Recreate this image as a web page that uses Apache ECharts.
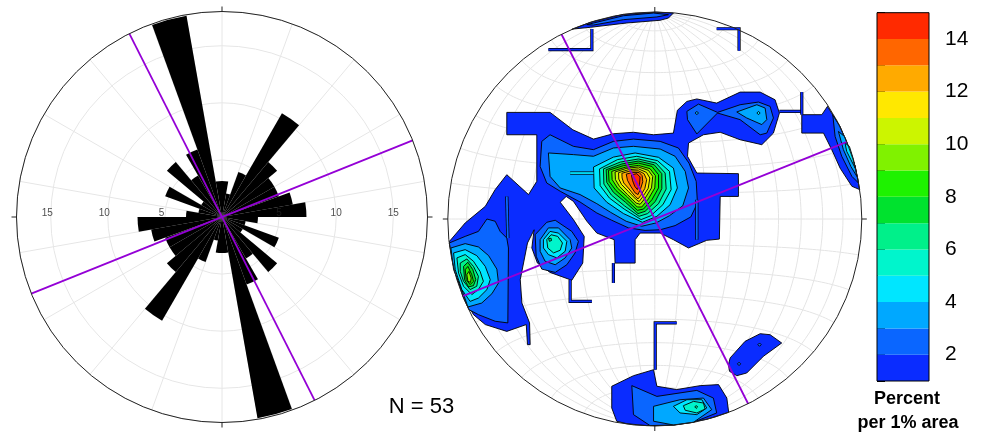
<!DOCTYPE html>
<html><head><meta charset="utf-8">
<script src="https://cdn.jsdelivr.net/npm/echarts/dist/echarts.min.js"></script>
<style>html,body{margin:0;padding:0;background:#fff}#c{width:986px;height:433px}</style>
</head><body><div id="c"></div>
<script>
// ---------- Rose diagram data ----------
const roseBins = ['0','10','20','30','40','50','60','70','80','90','100','110','120','130','140','150','160','170',
  '180','190','200','210','220','230','240','250','260','270','280','290','300','310','320','330','340','350'];
const rosePercent = [3.15,2.1,4.2,10.5,6.3,5.3,5.3,6.3,7.4,3.15,2.1,5.3,2.1,6.3,4.2,6.3,17.9,3.15,
  3.15,2.1,4.2,10.5,6.3,5.3,5.3,6.3,7.4,3.15,2.1,5.3,2.1,6.3,4.2,6.3,17.9,3.15];
const roseRadialTicks = [5, 10, 15];
const meanAzimuths = [68.1, 153.2];
const nLabel = 'N = 53';

// ---------- Colour bar ----------
const levelBounds = [1,2,3,4,5,6,7,8,9,10,11,12,13,14,15];
const levelColors = ['#0a2cff','#0a66ff','#00a8ff','#00e6ff','#00f5cc','#00f08a','#00e22e','#1ef200','#80f200','#ccf500','#ffe800','#ffaa00','#ff6600','#ff2a00'];
const colorbarTicks = [2,4,6,8,10,12,14];
const colorbarTitle = ['Percent', 'per 1% area'];

// ---------- Stereonet density contours (net units, radius = 100) ----------
const level1Polys = [
 [[-71.5,51.5],[-50.6,51.5],[-39.6,43.1],[-29.6,38.6],[-20.0,41.2],[-10.3,41.9],[-0.6,40.7],[9.0,41.5],[10.9,52.5],[15.5,56.8],[20.3,58.0],[29.9,56.0],[41.2,61.3],[50.9,61.3],[58.1,57.6],[60.2,51.2],[57.3,41.5],[51.7,35.9],[41.2,38.3],[31.6,41.9],[23.5,40.7],[16.3,36.7],[15.8,30.3],[20.3,22.2],[40.4,21.9],[40.4,10.9],[31.6,10.9],[31.2,-9.7],[25.1,-10.3],[16.3,-14.0],[9.0,-10.0],[2.6,-6.8],[-7.1,-6.8],[-9.5,-10.0],[-9.5,-21.3],[-19.2,-21.3],[-19.6,-10.0],[-28.0,-6.8],[-32.8,-1.1],[-39.3,8.5],[-42.8,10.9],[-45.7,8.1],[-39.3,-0.3],[-34.1,-8.4],[-34.8,-21.3],[-40.1,-29.6],[-50.6,-25.8],[-56.7,-21.3],[-59.4,-14.0],[-58.3,-5.2],[-61.5,-11.6],[-65.0,-29.3],[-64.2,-40.6],[-60.5,-50.2],[-60.2,-60.7],[-61.5,-60.7],[-62.1,-51.0],[-71.5,-54.3],[-81.9,-51.0],[-87.6,-46.2],[-91.6,-39.0],[-97.2,-22.9],[-99.2,-10.8],[-91.6,-1.9],[-81.9,6.1],[-77.1,14.2],[-71.5,21.4],[-61.0,11.8],[-57.0,18.2],[-57.0,40.7],[-71.5,40.7]],
 [[71.0,50.4],[80.7,50.4],[83.4,54.4],[89.4,44.8],[93.5,35.1],[96.8,25.4],[99.0,14.2],[95.2,15.8],[89.5,24.6],[85.5,33.5],[81.5,41.5],[71.0,41.5]],
 [[-40.1,91.6],[-31.2,95.0],[-15.1,98.9],[1.0,99.9],[9.0,99.5],[6.6,97.1],[2.6,96.0],[-13.5,94.7],[-31.2,92.6],[-39.3,91.8]],
 [[-20.8,-80.8],[-10.3,-75.7],[-0.6,-72.8],[1.0,-80.8],[10.6,-82.4],[21.9,-80.5],[30.8,-80.0],[34.8,-86.5],[35.7,-93.4],[25.1,-96.8],[9.0,-99.5],[-3.9,-99.8],[-13.5,-98.9],[-18.4,-97.7],[-20.8,-91.3]],
 [[35.6,-70.4],[36.4,-67.1],[43.6,-59.1],[50.9,-55.4],[55.7,-55.9],[61.3,-59.9],[52.5,-66.3],[44.4,-74.4],[39.6,-75.7],[36.1,-73.6]]
];
const level2Polys = [
 [[-54.6,37.5],[-50.6,40.7],[-39.3,35.1],[-29.6,33.5],[-20.0,37.5],[-10.3,38.6],[2.6,37.5],[11.4,34.3],[16.5,27.0],[20.0,18.2],[20.6,7.7],[17.4,1.0],[9.8,-3.2],[2.6,-5.2],[-4.7,-5.5],[-12.7,-4.3],[-20.8,-0.6],[-28.0,2.9],[-36.1,8.2],[-45.7,13.4],[-52.2,17.4],[-55.4,25.4]],
 [[15.5,52.0],[21.1,55.5],[30.3,51.5],[41.2,55.2],[50.1,56.5],[55.7,54.4],[57.3,48.8],[54.1,41.5],[50.9,40.7],[41.2,48.0],[30.3,51.2],[20.3,41.1],[15.8,48.0]],
 [[-99.3,-11.6],[-91.6,-8.4],[-85.2,-6.0],[-81.1,0],[-77.1,-1.1],[-74.7,-6.0],[-71.5,-9.2],[-70.7,-14.0],[-71.0,-50.2],[-77.1,-49.4],[-85.2,-46.2],[-89.8,-43.8],[-92.7,-37.3],[-96.9,-24.5]],
 [[-57.8,-7.6],[-52.2,-1.6],[-48.1,-0.6],[-40.1,-6.0],[-36.9,-10.8],[-38.5,-16.4],[-42.5,-22.1],[-48.1,-25.8],[-54.6,-24.2],[-57.3,-18.0]],
 [[86.0,50.2],[89.4,44.8],[93.5,35.1],[96.8,25.4],[98.4,17.4],[95.2,20.6],[90.3,30.3],[87.1,39.9]],
 [[-32.8,93.9],[-15.1,98.2],[-0.6,99.5],[6.6,98.7],[1.0,97.6],[-15.1,96.3],[-29.6,93.7]],
 [[-11.1,-80.5],[1.0,-85.7],[20.3,-82.8],[28.3,-86.5],[29.9,-93.7],[18.7,-98.2],[9.0,-99.5],[-2.3,-99.8],[-10.3,-94.5]],
 [[49.8,-60.7],[50.6,-59.9],[51.4,-60.7],[50.6,-61.5]],
 [[39.9,-70.0],[40.7,-69.2],[41.5,-70.0],[40.7,-70.8]]
];
const level3Polys = [
 [[-51.4,31.9],[-39.3,31.1],[-29.6,30.3],[-20.0,34.3],[-10.3,35.1],[2.6,33.8],[9.8,30.3],[14.7,23.0],[16.3,15.0],[13.5,6.4],[7.1,1.6],[0.6,-1.9],[-6.3,-3.5],[-13.8,-1.1],[-21.3,3.2],[-28.0,7.4],[-36.1,11.8],[-45.7,15.0],[-50.6,20.6]],
 [[39.6,51.7],[49.3,55.2],[53.3,53.6],[54.1,48.0],[51.7,45.6],[44.4,48.8]],
 [[19.5,51.2],[20.3,52.0],[21.1,51.2],[20.3,50.4]],
 [[-98.5,-14.0],[-91.6,-11.9],[-85.2,-13.5],[-80.3,-17.7],[-76.3,-24.2],[-75.5,-30.9],[-78.7,-36.1],[-83.6,-40.6],[-90.3,-42.5],[-92.5,-36.0],[-97.2,-24.5]],
 [[-55.4,-10.0],[-51.4,-4.3],[-46.5,-4.3],[-40.9,-10.0],[-40.1,-14.0],[-43.3,-18.8],[-48.1,-22.1],[-53.0,-20.4],[-55.4,-15.6]],
 [[88.7,42.3],[91.6,39.9],[94.7,31.9],[96.8,25.4],[97.6,20.6],[94.7,25.4],[91.1,33.5]],
 [[-0.6,-90.5],[12.2,-87.3],[23.5,-86.5],[27.5,-92.1],[18.7,-98.2],[9.0,-99.5],[-0.6,-97.7]]
];
const level4Polys = [
 [[-29.6,25.1],[-20.0,29.9],[-9.5,31.9],[1.8,29.8],[9.0,24.6],[10.9,15.0],[7.4,6.9],[1.0,1.3],[-6.0,-1.6],[-15.1,2.6],[-23.2,8.1],[-29.3,15.0]],
 [[49.3,51.2],[50.1,52.0],[50.9,51.2],[50.1,50.4]],
 [[-97.2,-16.4],[-91.6,-14.8],[-86.0,-17.7],[-81.9,-22.9],[-79.5,-29.3],[-81.1,-34.1],[-85.2,-38.2],[-89.2,-39.8],[-93.2,-34.1],[-96.4,-24.5]],
 [[-53.8,-10.0],[-50.6,-6.0],[-46.5,-6.8],[-42.5,-10.8],[-43.3,-15.6],[-47.3,-18.8],[-51.4,-17.2],[-53.8,-14.0]],
 [[91.9,36.7],[94.0,35.1],[96.0,28.7],[96.8,24.6],[94.7,28.7],[92.7,32.7]],
 [[9.0,-90.5],[15.5,-87.3],[22.7,-87.3],[25.1,-91.3],[20.3,-94.5],[12.2,-93.7]]
];
const level5Polys = [
 [[-26.7,24.2],[-18.0,28.7],[-8.7,30.3],[1.3,28.2],[7.1,23.0],[7.9,14.2],[3.9,6.9],[-1.9,1.6],[-6.6,-0.3],[-14.8,4.8],[-21.9,10.1],[-26.4,16.1]],
 [[-95.6,-18.8],[-91.6,-17.2],[-87.6,-20.4],[-84.4,-25.3],[-82.8,-30.1],[-85.2,-34.1],[-88.4,-36.5],[-92.4,-32.5],[-94.8,-26.1]],
 [[-52.2,-10.0],[-50.1,-7.6],[-46.9,-8.4],[-44.6,-11.6],[-45.7,-15.1],[-48.9,-16.4],[-51.7,-14.0]],
 [[13.8,-90.2],[18.7,-88.1],[23.5,-88.9],[24.3,-91.8],[20.3,-93.7],[14.7,-92.4]]
];
const level6Polys = [
 [[-24.8,24.2],[-16.7,27.5],[-7.9,29.0],[0.6,27.0],[5.0,22.2],[5.5,14.5],[1.8,7.4],[-3.5,2.6],[-7.6,1.3],[-14.7,6.4],[-21.0,11.6],[-24.6,16.9]],
 [[-94.0,-21.3],[-90.8,-19.3],[-87.6,-22.9],[-85.2,-27.7],[-86.0,-32.5],[-89.2,-34.1],[-92.4,-30.1],[-94.0,-25.3]],
 [[-51.3,-9.5],[-50.1,-9.3],[-49.9,-10.4],[-50.9,-10.8]],
 [[19.3,-90.8],[20.0,-90.1],[20.7,-90.8],[20.0,-91.5]]
];
const level7Polys = [
 [[-23.5,23.8],[-15.9,26.6],[-7.9,28.0],[-0.3,26.2],[3.4,21.9],[3.4,14.7],[0.2,8.4],[-4.7,3.7],[-8.1,2.6],[-14.2,8.1],[-20.0,12.9],[-23.2,17.7]],
 [[-92.4,-22.9],[-90.3,-20.9],[-87.9,-24.5],[-86.5,-29.3],[-87.6,-32.2],[-90.0,-32.8],[-91.9,-29.3]]
];
const level8Polys = [
 [[-22.4,23.5],[-15.1,25.8],[-7.9,27.0],[-1.4,25.4],[1.8,21.4],[1.8,15.0],[-1.4,9.3],[-5.5,4.8],[-8.4,4.2],[-13.8,9.3],[-18.8,13.8],[-22.1,18.2]],
 [[-91.6,-24.5],[-90.3,-22.9],[-88.4,-26.9],[-87.6,-30.1],[-89.2,-31.7],[-91.1,-29.3]]
];
const level9Polys = [
 [[-20.8,23.0],[-14.3,25.0],[-7.9,25.9],[-2.3,24.3],[0.3,20.9],[0,15.0],[-3.1,9.7],[-6.3,5.8],[-8.5,5.8],[-13.2,10.6],[-17.9,14.8],[-20.6,19.0]],
 [[-90.8,-26.9],[-89.8,-25.3],[-88.7,-28.5],[-89.0,-30.6],[-90.3,-30.1]]
];
const level10Polys = [[[-19.2,22.7],[-13.5,24.5],[-7.9,25.1],[-3.1,23.5],[-1.0,20.6],[-1.6,15.0],[-4.7,10.0],[-7.1,7.1],[-9.0,7.7],[-13.2,11.8],[-17.1,15.8],[-19.0,19.0]]];
const level11Polys = [[[-17.5,22.4],[-12.7,23.8],[-7.9,24.2],[-4.0,22.5],[-2.4,19.8],[-3.2,14.8],[-6.0,10.5],[-7.6,8.4],[-9.3,9.7],[-12.9,13.4],[-16.1,16.7],[-17.4,19.3]]];
const level12Polys = [[[-15.9,22.1],[-11.9,23.2],[-7.9,23.3],[-5.2,21.9],[-3.9,19.0],[-4.8,14.8],[-6.8,11.3],[-8.1,9.7],[-9.5,10.9],[-12.4,14.5],[-15.0,17.4],[-15.8,19.8]]];
const level13Polys = [[[-13.8,21.7],[-10.6,22.5],[-7.6,22.5],[-6.1,20.9],[-5.8,18.0],[-6.9,14.5],[-8.1,11.8],[-9.5,12.6],[-11.6,15.8],[-13.2,18.7]]];
const level14Polys = [[[-11.3,21.3],[-8.7,21.9],[-7.1,20.3],[-7.4,16.6],[-8.4,14.2],[-9.7,15.8],[-10.8,18.7]]];

// zero-width contour pieces (level lines along grid nodes)
const level1Lines = [
 [[-51.4,81.8],[-30.4,81.8],[-30.4,91.8]],
 [[29.9,91.9],[40.7,91.9],[40.7,81.3]],
 [[60.2,52.0],[71.0,52.0]],
 [[71.0,61.3],[71.0,50.4]],
 [[-20.0,-21.3],[-20.0,-30.9]],
 [[-40.9,-29.3],[-40.9,-39.8],[-30.4,-39.8]],
 [[0.2,-72.8],[0.2,-50.2],[10.6,-50.2]]
];
const level2Lines = [ [[-71.5,10.9],[-71.0,-9.2]], [[20.3,9.3],[20.3,-10.0]] ];
const level4Lines = [ [[-40.9,22.2],[-29.6,22.2]] ];

// ---------- build helpers ----------
const contourLevels = [level1Polys,level2Polys,level3Polys,level4Polys,level5Polys,level6Polys,level7Polys,
  level8Polys,level9Polys,level10Polys,level11Polys,level12Polys,level13Polys,level14Polys];
const contourItems = [];
contourLevels.forEach((polys, li) => polys.forEach(p => contourItems.push({level: li, pts: p})));
const lineItems = [];
level1Lines.forEach(p => lineItems.push({level: 0, pts: p}));
level2Lines.forEach(p => lineItems.push({level: 1, pts: p}));
level4Lines.forEach(p => lineItems.push({level: 3, pts: p}));

// Schmidt (equal-area) net graticule, every 10 degrees
function schmidt(lonDeg, latDeg) {
  const l = lonDeg * Math.PI / 180, p = latDeg * Math.PI / 180;
  const k = Math.sqrt(2 / (1 + Math.cos(p) * Math.cos(l)));
  return [100 * k * Math.cos(p) * Math.sin(l) / Math.SQRT2, 100 * k * Math.sin(p) / Math.SQRT2];
}
const netLines = [];
for (let lon = -80; lon <= 80; lon += 10) { const pts = []; for (let lat = -90; lat <= 90; lat += 2) pts.push(schmidt(lon, lat)); netLines.push(pts); }
for (let lat = -80; lat <= 80; lat += 10) { const pts = []; for (let lon = -90; lon <= 90; lon += 2) pts.push(schmidt(lon, lat)); netLines.push(pts); }

const FONT = '"Liberation Sans", Arial, Helvetica, sans-serif';
const PURPLE = '#9400d6';

const series = [];
// Rose bars
series.push({type:'bar', coordinateSystem:'polar', polarIndex:0, data: rosePercent, barCategoryGap:'0%',
  itemStyle:{color:'#000'}, z:2, silent:true});
// Rose mean lines
meanAzimuths.forEach(az => series.push({type:'line', coordinateSystem:'polar', polarIndex:1,
  data:[[18, az],[18, az + 180]], symbol:'none', lineStyle:{color:PURPLE, width:1.8}, z:5, silent:true}));
// Rose radial tick labels
series.push({type:'scatter', coordinateSystem:'polar', polarIndex:1, data: roseRadialTicks.map(r => [r, 90]),
  symbolSize:1, itemStyle:{color:'rgba(0,0,0,0)'}, z:6, silent:true,
  label:{show:true, position:'inside', offset:[0,-4], formatter:p => String(p.value[0]), fontSize:10, color:'#222', fontFamily:FONT}});
series.push({type:'scatter', coordinateSystem:'polar', polarIndex:1, data: roseRadialTicks.map(r => [r, 270]),
  symbolSize:1, itemStyle:{color:'rgba(0,0,0,0)'}, z:6, silent:true,
  label:{show:true, position:'inside', offset:[-3.5,-4], formatter:p => String(p.value[0]), fontSize:10, color:'#222', fontFamily:FONT}});

// Stereonet graticule
series.push({type:'custom', xAxisIndex:0, yAxisIndex:0, data: netLines.map(() => [0,0]), z:1, silent:true,
  renderItem:(params, api) => ({type:'polyline', shape:{points: netLines[params.dataIndex].map(p => api.coord(p))},
    style:{stroke:'#e4e4e4', lineWidth:1, fill:'none'}})});
// Contour fills
series.push({type:'custom', xAxisIndex:0, yAxisIndex:0, data: contourItems.map(() => [0,0]), z:2, silent:true,
  renderItem:(params, api) => { const it = contourItems[params.dataIndex];
    return {type:'polygon', shape:{points: it.pts.map(p => api.coord(p))},
      style:{fill: levelColors[it.level], stroke:'#000', lineWidth:0.9}}; }});
// Degenerate contour lines
series.push({type:'custom', xAxisIndex:0, yAxisIndex:0, data: lineItems.map(() => [0,0]), z:3, silent:true,
  renderItem:(params, api) => { const it = lineItems[params.dataIndex]; const pts = it.pts.map(p => api.coord(p));
    return {type:'group', children:[
      {type:'polyline', shape:{points:pts}, style:{stroke:'#000', lineWidth:3.2, fill:'none', lineJoin:'miter'}},
      {type:'polyline', shape:{points:pts}, style:{stroke:levelColors[it.level], lineWidth:1.8, fill:'none', lineJoin:'miter'}}]}; }});
// Stereonet mean lines
meanAzimuths.forEach(az => { const a = az * Math.PI / 180;
  series.push({type:'line', xAxisIndex:0, yAxisIndex:0, data:[[100*Math.sin(a), 100*Math.cos(a)], [-100*Math.sin(a), -100*Math.cos(a)]],
    symbol:'none', lineStyle:{color:PURPLE, width:1.8}, z:5, silent:true}); });

// Colour bar
series.push({type:'custom', xAxisIndex:1, yAxisIndex:1, data: levelColors.map((c, i) => [0, levelBounds[i]]), z:2, silent:true,
  renderItem:(params, api) => { const i = params.dataIndex;
    const p0 = api.coord([0, levelBounds[i+1]]), p1 = api.coord([1, levelBounds[i]]);
    return {type:'rect', shape:{x:p0[0], y:p0[1], width:p1[0]-p0[0], height:p1[1]-p0[1]}, style:{fill: levelColors[i]}}; }});
series.push({type:'custom', xAxisIndex:1, yAxisIndex:1, data:[[0,1]], z:4, silent:true,
  renderItem:(params, api) => { const p0 = api.coord([0, levelBounds[levelBounds.length-1]]), p1 = api.coord([1, levelBounds[0]]);
    return {type:'rect', shape:{x:p0[0], y:p0[1], width:p1[0]-p0[0], height:p1[1]-p0[1]}, style:{fill:'none', stroke:'#000', lineWidth:1}}; }});

const ringAxis = (idx) => ({polarIndex:idx, type:'value', min:0, max:360, interval:90, startAngle:90, clockwise:true, z:10,
  axisLine:{show:true, lineStyle:{color:'#222', width:1}}, axisTick:{show:true, length:5, lineStyle:{color:'#222', width:1}},
  axisLabel:{show:false}, splitLine:{show:false}});

const option = {
  animation:false,
  polar:[{center:[222,217], radius:205.5},{center:[222,217], radius:205.5},{center:[654.8,219], radius:207}],
  angleAxis:[
    {polarIndex:0, type:'category', data:roseBins, startAngle:90, clockwise:true, boundaryGap:true,
     axisLine:{show:false}, axisTick:{show:false}, axisLabel:{show:false}, splitLine:{show:true, lineStyle:{color:'#e6e6e6', width:1}}},
    ringAxis(1), ringAxis(2)
  ],
  radiusAxis:[
    {polarIndex:0, type:'value', min:0, max:18, interval:5, axisLine:{show:false}, axisTick:{show:false}, axisLabel:{show:false},
     splitLine:{show:true, lineStyle:{color:'#e6e6e6', width:1}}},
    {polarIndex:1, type:'value', min:0, max:18, axisLine:{show:false}, axisTick:{show:false}, axisLabel:{show:false}, splitLine:{show:false}},
    {polarIndex:2, type:'value', min:0, max:100, axisLine:{show:false}, axisTick:{show:false}, axisLabel:{show:false}, splitLine:{show:false}}
  ],
  grid:[{left:447.8, top:12, width:414, height:414},{left:877, top:12.7, width:52, height:368.3}],
  xAxis:[{gridIndex:0, type:'value', min:-100, max:100, show:false},{gridIndex:1, type:'value', min:0, max:1, show:false}],
  yAxis:[{gridIndex:0, type:'value', min:-100, max:100, show:false},
    {gridIndex:1, type:'value', min:1, max:15, interval:1, position:'right',
     axisLine:{show:true, lineStyle:{color:'#000', width:1}}, axisTick:{show:true, length:8, lineStyle:{color:'#000'}},
     axisLabel:{margin:16, fontSize:21, color:'#000', fontFamily:FONT, formatter:v => colorbarTicks.includes(v) ? String(v) : ''},
     splitLine:{show:false}}],
  graphic:[
    {type:'text', x:421.5, y:407, style:{text:nLabel, fill:'#000', font:'22px ' + FONT, textAlign:'center', textVerticalAlign:'middle'}},
    {type:'text', x:907, y:399, style:{text:colorbarTitle[0], fill:'#000', font:'bold 18px ' + FONT, textAlign:'center', textVerticalAlign:'middle'}},
    {type:'text', x:908, y:423, style:{text:colorbarTitle[1], fill:'#000', font:'bold 18px ' + FONT, textAlign:'center', textVerticalAlign:'middle'}}
  ],
  series: series
};
const chart = echarts.init(document.getElementById('c'));
chart.setOption(option);
</script></body></html>
